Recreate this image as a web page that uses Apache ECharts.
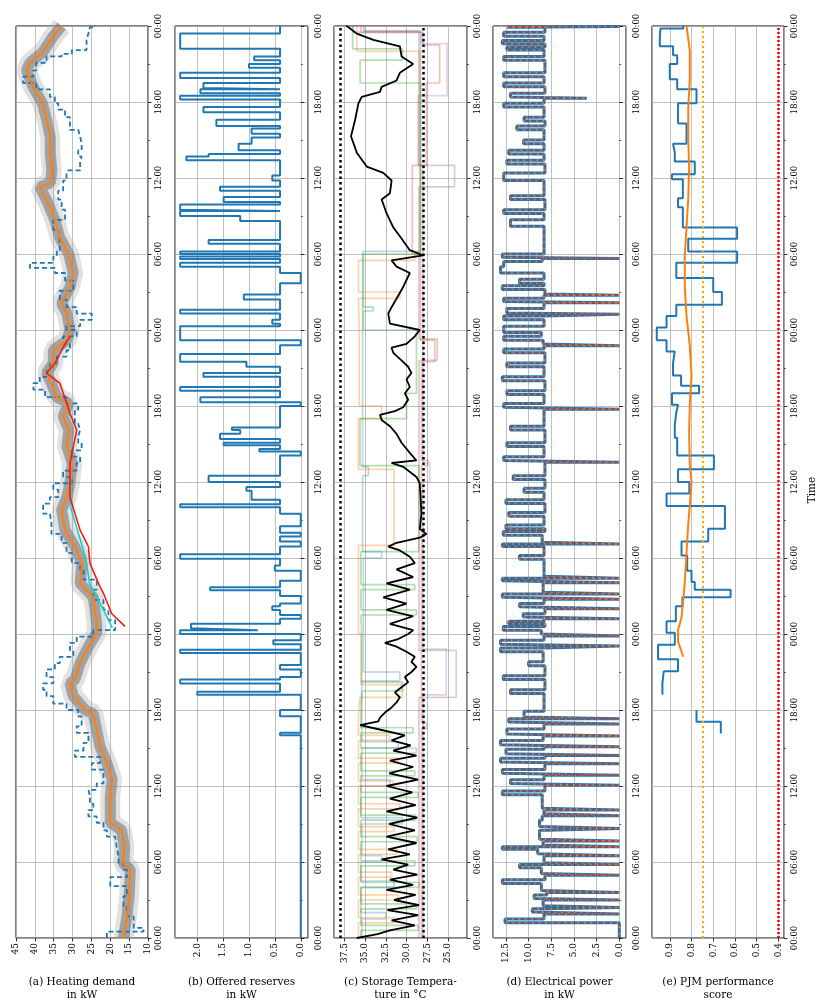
<!DOCTYPE html>
<html>
<head>
<meta charset="utf-8">
<script src="https://cdn.jsdelivr.net/npm/echarts@6/dist/echarts.min.js"></script>
<style>
html,body{margin:0;padding:0;background:#fff}
#main{width:831px;height:1003px}
</style>
</head>
<body>
<div id="main"></div>
<script>
// all series are [hour, value] pairs, hour 0..72 (three days)
var heatForecast = [[0,16.5],[1.7,15.6],[3.3,15.0],[5.4,14.7],[5.9,16.6],[7.2,16.3],[8.5,17.0],[9.1,20.0],[11.2,20.0],[12.5,19.5],
  [13.8,20.9],[15.1,22.7],[16.4,23.6],[17.7,24.5],[18.0,26.7],[19.1,29.8],[20.1,30.7],[20.4,29.4],[21.7,28.0],[23.0,25.8],
  [24.1,23.6],[24.8,23.6],[26.9,24.5],[28.0,28.0],[29.6,27.5],[30.9,29.4],[32.2,32.0],[33.8,32.9],[34.8,31.5],[35.9,30.7],
  [37.5,30.1],[38.8,31.5],[40.1,31.0],[41.2,32.5],[42.2,31.0],[42.7,34.2],[43.8,35.6],[44.6,36.9],[45.4,35.1],[46.4,35.1],
  [47.2,31.5],[48.0,30.7],[49.3,31.5],[50.1,32.9],[51.4,30.7],[52.5,29.8],[54.0,31.0],[55.3,33.4],[56.6,34.6],[58.0,36.5],
  [59.3,38.7],[59.6,35.9],[60.6,35.5],[61.9,35.9],[63.2,35.9],[64.6,36.9],[65.9,38.0],[67.2,40.5],[68.5,42.2],[69.1,41.3],
  [69.9,38.0],[71.2,35.1],[72,32.9]];

var heatActual = [[0,20.9],[0.5,11.2],[0.8,13.8],[1.7,15.6],[2.5,16.5],[3.3,15.6],[4.1,20.0],[4.8,15.6],[5.4,16.5],[5.9,17.8],
  [6.4,18.3],[7.2,18.7],[8.0,20.9],[8.5,21.8],[9.1,23.6],[9.6,25.8],[10.1,24.5],[10.6,25.4],[11.2,25.8],[11.7,23.6],
  [12.2,21.8],[13.3,24.9],[13.8,22.7],[14.3,29.4],[14.8,27.1],[15.4,25.8],[16.2,28.9],[16.7,27.6],[17.5,28.5],[18.0,31.6],
  [18.5,35.1],[19.1,36.9],[19.6,37.8],[20.1,35.1],[20.6,36.9],[21.2,34.7],[21.7,33.4],[22.2,29.8],[22.7,30.7],[23.3,28.9],
  [23.8,24.5],[24.3,18.7],[25.1,20.5],[25.9,21.8],[26.7,24.5],[27.5,23.6],[28.3,27.1],[29.1,28.0],[29.6,30.2],[30.4,31.6],
  [31.2,32.9],[31.9,35.6],[32.7,36.0],[33.5,37.8],[34.3,36.0],[34.8,33.8],[35.4,35.1],[35.9,30.2],[36.4,32.5],[36.9,28.9],
  [37.5,28.0],[38.0,30.2],[38.5,27.6],[39.1,28.5],[39.6,28.0],[40.1,28.5],[40.6,29.4],[41.2,29.4],[41.7,28.5],[42.2,31.6],
  [42.7,37.3],[43.3,40.4],[43.8,38.7],[44.3,36.9],[44.8,36.0],[45.4,34.2],[45.9,31.6],[46.4,30.7],[46.9,32.5],[47.5,28.9],
  [48.0,31.6],[48.3,28.0],[48.8,24.9],[49.3,28.9],[49.8,31.6],[50.4,33.4],[51.1,29.8],[51.9,32.0],[52.5,34.7],[52.9,41.3],
  [53.3,35.1],[53.8,34.2],[54.3,33.4],[55.1,33.8],[55.9,35.1],[56.7,32.0],[57.5,32.9],[58.3,33.8],[59.0,32.5],[59.8,31.6],
  [60.4,31.1],[60.6,28.0],[61.2,27.6],[61.7,28.5],[62.2,27.6],[62.7,28.0],[63.3,28.5],[63.8,30.7],[64.3,30.7],[64.8,32.0],
  [65.4,33.8],[65.9,34.7],[66.4,36.0],[67.0,39.6],[67.5,43.1],[68.0,40.4],[68.5,39.6],[69.1,36.9],[69.6,32.9],[69.8,30.2],
  [70.1,26.3],[70.9,25.8],[71.4,25.4],[71.9,24.0]];

var heatRed = [[24.6,16.1],[25.6,19.6],[27.2,21.8],[27.7,22.7],[29.6,25.4],[30.9,25.8],[32.2,28.0],[34.8,30.7],[37.5,30.7],
  [40.1,28.9],[41.4,30.7],[42.2,31.5],[43.8,33.4],[44.6,36.9],[45.4,34.6],[46.4,32.9],[47.5,30.7]];

var heatCyan = [[24.5,19.5],[26,22.0],[28,25.5],[30,26.5],[32,28.5],[34,30.5],[36,30.5],[37.5,30.3]];

var reserves = [[0,0],[16.0,0.4],[16.2,0],[17.5,0.4],[18.0,0],[19.2,2.0],[19.45,0.4],[20.1,2.33],[20.4,0.4],[20.6,0],
  [21.2,0.4],[21.55,0],[22.5,2.33],[22.75,0],[23.2,0.53],[23.5,0],[24.0,2.33],[24.3,0.83],[24.45,2.12],[24.8,0.4],
  [25.2,0],[25.5,0.4],[25.9,0.55],[26.2,0.4],[26.4,0],[27.0,0.4],[27.45,1.75],[27.7,0.4],[28.2,0],[29.0,0.5],
  [29.4,0.4],[29.95,2.33],[30.3,0.4],[30.9,0],[31.3,0.4],[31.7,0],[32.0,0.4],[32.5,0],[33.5,0.4],[34.0,2.33],
  [34.25,0.4],[34.6,0.95],[35.3,1.05],[35.6,0.4],[36.0,1.78],[36.5,0.4],[38.1,0],[38.4,0.8],[38.6,0.4],[38.9,1.49],
  [39.1,0.4],[39.4,1.56],[39.8,1.17],[40.1,1.33],[40.3,0.4],[42.0,0],[42.3,1.94],[42.7,0.4],[43.2,2.33],[43.5,0.4],
  [44.3,1.88],[44.6,0.4],[45.1,1.05],[45.5,2.33],[46.1,0.4],[46.8,0],[47.2,2.33],[48.3,0.4],[48.5,0.55],[48.8,0.4],
  [49.3,2.33],[49.6,0.4],[50.4,1.1],[50.8,0.4],[51.7,0],[52.5,0.4],[53.0,2.33],[53.3,0.4],[53.6,2.33],[53.8,0.4],
  [54.0,2.33],[54.2,0.4],[54.8,1.78],[55.1,0.4],[56.6,1.17],[57.0,2.33],[57.4,0.4],[57.5,2.33],[57.9,0.4],[58.1,1.49],
  [58.5,0.4],[59.0,1.56],[59.3,0.4],[59.8,0.55],[60.2,0.4],[61.4,2.21],[61.7,1.78],[61.9,0.4],[62.2,1.2],[62.7,0.95],
  [63.2,0.4],[63.5,0.95],[63.9,0.4],[64.1,1.63],[64.6,0.4],[65.2,1.88],[65.6,0.4],[66.2,2.33],[66.5,0.4],[66.7,1.94],
  [67.0,0.4],[67.1,1.88],[67.5,0.4],[67.9,2.33],[68.3,0.4],[68.7,1.0],[69.0,0.4],[69.3,0.9],[69.6,0.4],[70.2,2.33],
  [71.4,0.4]];

var storageTemp = [[0.0,36.0],[0.3,33.5],[0.6,32.0],[1.0,29.0],[1.4,31.8],[1.8,28.6],[2.2,32.3],[2.6,28.5],[3.0,31.5],[3.4,28.9],
  [3.8,32.4],[4.2,29.2],[4.6,32.0],[5.0,28.7],[5.4,31.6],[5.8,29.8],[6.2,33.0],[6.6,29.6],[7.0,32.2],[7.5,28.8],
  [8.0,32.4],[8.5,29.0],[9.0,32.1],[9.5,28.7],[10.0,32.4],[10.5,28.9],[11.0,32.0],[11.5,29.3],[12.0,32.4],[12.5,28.6],
  [13.0,32.1],[13.5,29.2],[14.0,32.0],[14.4,28.8],[14.8,31.6],[15.2,29.5],[15.6,31.8],[16.0,30.2],[16.5,33.5],[16.8,35.6],
  [17.1,33.4],[17.4,33.2],[17.8,32.6],[18.2,31.8],[18.6,31.2],[19.0,30.8],[19.4,31.4],[19.8,30.6],[20.2,29.8],[20.6,30.2],
  [21.0,29.4],[21.4,28.8],[21.8,29.4],[22.2,29.0],[22.6,30.0],[23.0,31.2],[23.3,32.6],[23.6,31.0],[24.0,29.8],
  [24.3,29.2],[24.8,32.0],[25.4,29.2],[25.9,32.4],[26.4,30.0],[26.9,32.8],[27.5,29.6],[28.0,32.4],[28.5,29.2],[29.1,31.2],
  [29.6,29.0],[30.1,29.6],[30.6,30.8],[30.9,32.2],[31.2,31.2],[31.6,28.4],[31.9,27.6],[32.3,28.4],[33.5,28.2],[34.8,28.3],
  [35.9,28.4],[36.4,28.8],[37.2,30.4],[37.5,31.8],[37.7,28.8],[38.3,29.6],[39.1,30.6],[39.8,31.2],[40.4,32.0],[40.9,33.0],
  [41.3,33.2],[41.6,31.4],[41.9,30.4],[42.5,29.8],[43.0,30.2],[43.5,29.6],[44.1,30.0],[44.6,29.4],[45.1,29.8],[45.6,30.6],
  [46.2,31.6],[46.6,31.8],[46.9,30.0],[47.5,29.0],[48.0,28.4],
  [48.5,32.0],[49.3,32.2],[49.8,31.8],[51.4,30.4],[52.5,29.6],[53.0,31.2],[53.5,31.8],[53.9,28.0],[54.3,29.6],[55.4,30.8],
  [56.1,31.6],[57.2,32.4],[58.3,33.0],[58.8,32.0],[59.8,31.8],[60.4,32.8],[60.9,34.8],[62.0,36.0],[63.3,36.7],[64.6,36.2],
  [65.9,35.8],[66.4,35.4],[66.8,33.2],[67.2,33.0],[67.7,31.2],[68.3,30.8],[69.0,29.2],[69.6,30.6],[70.4,30.8],[70.9,34.0],
  [71.4,36.0],[71.9,37.0],[72.0,37.3]];

// individual storages, drawn faint
var paleBlue = [[0,35.4],[1.5,32.5],[2.0,35.5],[4.0,31.5],[4.5,35.5],[6.0,33.0],[6.5,35.4],[9.0,30.5],[9.5,35.5],[12.0,32.0],
  [12.5,35.4],[15.0,31.0],[15.5,35.4],[20.3,30.8],[21.0,35.2],[30.0,33.0],[30.5,35.3],[36.5,34.6],[37.2,35.3],[54.2,28.3],[71.5,36.5]];
var paleOrange = [[0,35.8],[1.2,31.5],[1.6,35.8],[3.0,31.0],[3.4,35.8],[4.8,31.8],[5.2,35.8],[6.6,31.2],[7.0,35.8],[8.4,31.5],
  [8.8,35.8],[10.2,30.8],[10.6,35.8],[12.0,31.6],[12.4,35.8],[13.8,31.0],[14.2,35.8],[15.6,32.0],[16.0,35.8],[17.5,35.6],
  [19.0,30.5],[20.0,35.5],[24.0,35.8],[31.0,31.5],[37.0,35.8],[41.0,33.0],[42.0,35.7],[48.0,35.8],[50.5,30.8],[51.0,35.8],
  [53.5,29.0],[54.0,28.4],[70.0,36.0]];
var paleGreen = [[0,35.5],[0.6,28.6],[1.0,35.5],[2.3,28.8],[2.7,35.5],[4.0,28.5],[4.4,35.5],[5.7,29.0],[6.1,35.5],[7.6,28.7],
  [8.0,35.5],[9.3,28.9],[9.7,35.5],[11.1,28.6],[11.5,35.5],[12.8,29.0],[13.2,35.5],[14.6,28.8],[15.0,35.5],[16.2,29.2],
  [16.6,35.5],[17.5,35.4],[19.5,30.5],[20.2,35.4],[24.0,35.5],[25.5,28.8],[25.9,35.5],[27.5,29.0],[27.9,35.5],[30.5,28.5],
  [37.3,35.6],[41.0,30.0],[43.0,28.8],[48.0,35.2],[49.5,34.0],[49.8,35.2],[54.0,28.3],[67.5,35.6],[69.3,30.5],[70.2,36.5]];
var paleRed = [[0,28.2],[16.5,27.6],[17.0,28.2],[37.3,27.4],[37.7,28.2],[45.5,26.6],[47.2,28.3],[54.0,29.3],[61.0,27.6],
  [67.5,26.0],[70.5,28.0],[71.5,35.5]];
var palePurple = [[0,28.0],[19.2,25.2],[22.8,28.0],[36.0,27.2],[37.5,28.0],[61.0,28.6],[66.5,25.1],[70.6,28.2],[71.6,35.0]];
var paleBrown = [[0,28.5],[19.0,24.0],[22.7,28.5],[45.6,26.3],[47.3,28.5],[59.3,24.2],[61.0,28.5],[71.6,35.2]];
var storageLimits = [38, 28];

var elecPower = [[0,0],[1.2,12.6],[1.5,8.3],[1.9,0],[2.05,9.6],[2.3,8.2],[2.4,0],[2.55,8.4],[3.0,0],[3.12,9.4],
  [3.4,8.0],[3.6,0],[3.75,8.6],[4.3,12.9],[4.6,8.2],[4.95,0],[5.1,8.6],[5.55,11.0],[5.8,0],[5.95,8.3],
  [6.5,0],[6.65,9.0],[7.0,12.9],[7.2,0],[7.35,8.4],[7.65,0],[7.8,8.8],[8.5,8.0],[8.65,0],[8.8,8.8],
  [9.3,8.5],[9.65,0],[9.8,8.3],[10.1,0],[10.25,8.5],[11.3,12.9],[11.6,8.2],[12.05,0],[12.2,12.0],[12.5,8.3],
  [12.85,0],[13.0,12.9],[13.3,8.2],[13.75,0],[13.9,13.1],[14.2,8.2],[14.4,0],[14.55,12.5],[14.9,8.3],[15.1,0],
  [15.25,13.1],[15.6,8.4],[15.95,0],[16.1,12.4],[16.5,8.3],[16.9,0],[17.05,12.2],[17.3,0],[17.45,10.5],[17.9,8.3],
  [19.3,12.0],[19.6,8.2],[20.4,12.8],[20.7,8.2],[21.5,10.0],[21.8,8.4],[22.6,13.1],[22.9,8.3],[23.05,0],[23.2,13.1],
  [23.5,8.3],[23.85,0],[24.0,8.6],[24.3,12.8],[24.6,8.2],[24.8,12.2],[25.0,8.3],[25.2,0],[25.35,10.6],[25.6,8.2],
  [26.0,0],[26.15,11.0],[26.4,8.3],[26.75,0],[26.9,12.9],[27.15,0],[27.3,8.4],[28.05,0],[28.2,12.9],[28.4,0],
  [28.55,8.3],[29.9,11.0],[30.2,8.3],[30.9,12.9],[31.1,0],[31.25,8.5],[31.8,12.8],[32.1,8.2],[32.3,12.5],[32.6,8.3],
  [33.3,12.2],[33.6,8.2],[34.3,12.5],[34.6,8.3],[35.2,10.5],[35.5,8.2],[36.2,11.7],[36.5,8.2],[37.55,0],[37.7,12.75],
  [38.0,8.3],[38.8,12.4],[39.1,8.2],[40.1,12.0],[40.4,8.3],[41.75,0],[41.9,12.75],[42.2,8.3],[42.9,12.4],[43.2,8.2],
  [44.0,12.9],[44.3,8.3],[45.1,12.4],[45.4,8.2],[46.2,12.75],[46.5,8.3],[46.75,0],[46.9,8.4],[47.2,12.75],[47.5,8.6],
  [47.8,12.75],[48.3,8.3],[48.8,12.75],[49.1,8.2],[49.25,0],[49.35,12.4],[49.7,8.3],[50.15,0],[50.25,12.75],[50.5,8.3],
  [50.75,0],[50.85,8.2],[51.2,12.9],[51.5,8.3],[51.7,11.0],[52.0,8.3],[52.5,13.1],[53.0,12.75],[53.4,8.5],[53.65,0],
  [53.75,12.9],[54.0,8.3],[56.2,12.0],[56.7,8.3],[57.2,12.75],[57.5,8.2],[58.3,12.0],[58.6,8.3],[59.8,12.75],[60.4,8.2],
  [61.1,12.4],[61.4,8.3],[61.9,12.2],[62.2,8.3],[62.7,10.55],[63.0,8.3],[63.8,11.3],[64.1,8.2],[64.5,10.5],[64.8,8.3],
  [65.6,12.75],[65.9,8.3],[66.3,3.6],[66.35,8.3],[66.4,12.0],[66.7,8.2],[67.2,12.75],[67.5,8.3],[68.0,12.75],[68.3,8.2],
  [69.3,12.75],[69.6,8.3],[70.1,12.4],[70.35,8.2],[70.6,12.9],[70.85,8.3],[71.2,12.75],[71.5,8.2],[71.9,12.4],[71.97,0]];

var pjmScore = [[16.15,0.665],[17.08,0.777],[18.0,null],[19.2,0.934],[20.1,0.928],[21.05,0.862],[22.0,0.954],[23.16,0.877],
  [24.1,0.915],[25.0,0.872],[26.2,0.842],[26.9,0.62],[27.5,0.785],[28.1,0.80],[29.0,0.82],[30.2,0.846],[31.3,0.723],
  [32.3,0.646],[34.1,0.915],[35.1,0.81],[36.0,0.862],[37.0,0.697],[38.1,0.866],[39.5,0.877],[40.5,0.87],[41.5,0.862],
  [42.1,0.89],[43.0,0.765],[43.6,0.848],[44.4,0.885],[45.4,0.877],[46.3,0.915],[47.2,0.96],[48.2,0.915],[49.1,0.87],
  [50.0,0.66],[51.0,0.70],[52.1,0.87],[53.3,0.59],[54.2,0.815],[55.2,0.59],[56.1,0.84],[57.7,0.862],[58.4,0.84],
  [59.9,0.89],[60.3,0.785],[61.3,0.877],[62.0,0.885],[62.7,0.823],[64.3,0.862],[65.9,0.777],[67.0,0.866],[67.8,0.9],
  [69.0,0.866],[69.7,0.885],[70.4,0.946],[71.1,0.943],[71.8,0.838]];
var pjmMean = [[22.2,0.838],[23.4,0.862],[24.3,0.862],[25.3,0.846],[26.7,0.838],[28.1,0.831],[30.4,0.823],[32.7,0.815],
  [34.1,0.808],[36.0,0.8],[37.4,0.808],[39.8,0.811],[42.1,0.808],[44.4,0.8],[46.8,0.808],[49.1,0.823],[51.4,0.831],
  [53.8,0.831],[56.1,0.823],[58.4,0.815],[60.8,0.811],[63.1,0.815],[65.5,0.815],[67.8,0.808],[70.1,0.808],[72.0,0.823]];
var pjmThresholds = [0.75, 0.4];

var panelTitles = ['(a) Heating demand\nin kW', '(b) Offered reserves\nin kW', '(c) Storage Tempera-\nture in \u00b0C',
  '(d) Electrical power\nin kW', '(e) PJM performance\nscore'];

var FONT = 'DejaVu Serif';
var chart = echarts.init(document.getElementById('main'));

// value on x, hour on y
function flip(pts) { return pts.map(function (p) { return [p[1], p[0]]; }); }
function stepLine(pts, endHour) {
  var out = [];
  for (var i = 0; i < pts.length; i++) {
    var h1 = i + 1 < pts.length ? pts[i + 1][0] : endHour;
    if (pts[i][1] == null) { out.push(null); continue; }
    out.push([pts[i][1], pts[i][0]], [pts[i][1], h1]);
  }
  return out;
}

var panels = [
  {left: 16,  width: 132, min: 10, max: 45, step: 5, fmt: function (v) { return String(v); }, ends: true},
  {left: 175, width: 133, min: -0.14, max: 2.43, step: 0.5, fmt: function (v) { return v.toFixed(1); }},
  {left: 334, width: 133, min: 22.7, max: 38.75, step: 2.5, fmt: function (v) { return v.toFixed(1); }},
  {left: 493, width: 133, min: -0.74, max: 13.93, step: 2.5, fmt: function (v) { return v.toFixed(1); }},
  {left: 652, width: 132, min: 0.374, max: 0.982, step: 0.1, fmt: function (v) { return v.toFixed(1); }}
];

var grids = [], xAxes = [], yAxes = [], graphics = [];
panels.forEach(function (p, i) {
  grids.push({left: p.left, top: 26, width: p.width, height: 912, show: true,
    borderColor: '#000', borderWidth: 1, outerBoundsMode: 'none'});
  xAxes.push({
    gridIndex: i, type: 'value', inverse: true, min: p.min, max: p.max,
    minInterval: p.step, maxInterval: p.step,
    axisLine: {show: false},
    axisTick: {show: true, length: 3.5, lineStyle: {color: '#000', width: 0.8}},
    axisLabel: {rotate: 90, margin: 5, fontFamily: FONT, fontSize: 9, color: '#000',
      showMinLabel: !!p.ends, showMaxLabel: !!p.ends, formatter: p.fmt},
    splitLine: {show: true, lineStyle: {color: '#b0b0b0', width: 0.8}}
  });
  yAxes.push({
    gridIndex: i, type: 'value', position: 'right', min: 0, max: 72, interval: 6,
    axisLine: {show: false},
    axisTick: {show: true, length: 3.5, lineStyle: {color: '#000', width: 0.8}},
    minorTick: {show: true, splitNumber: 2, length: 2, lineStyle: {color: '#000', width: 0.6}},
    axisLabel: {rotate: 90, margin: 6, fontFamily: FONT, fontSize: 8.5, color: '#000',
      formatter: function (v) { var h = v % 24; return (h < 10 ? '0' : '') + h + ':00'; }},
    splitLine: {show: true, lineStyle: {color: '#b0b0b0', width: 0.8}}
  });
  graphics.push({type: 'text', x: p.left + p.width / 2, y: 976,
    style: {text: panelTitles[i], textAlign: 'center', fill: '#000', font: '10.5px "' + FONT + '"', lineHeight: 13}});
});
graphics.push({type: 'text', x: 812, y: 490, rotation: Math.PI / 2,
  style: {text: 'Time', textAlign: 'center', textVerticalAlign: 'middle', fill: '#000', font: '10.5px "' + FONT + '"'}});

function line(gi, data, color, width, type, extra) {
  var s = {type: 'line', xAxisIndex: gi, yAxisIndex: gi, data: data, showSymbol: false, symbol: 'none',
    animation: false, silent: true, connectNulls: false,
    lineStyle: {color: color, width: width, type: type || 'solid'}};
  if (extra) Object.keys(extra).forEach(function (k) { s[k] = extra[k]; });
  return s;
}

var series = [
  // (a) gray ensemble band, then measured, forecasts
  line(0, flip(heatForecast), 'rgba(170,170,170,0.35)', 20),
  line(0, flip(heatForecast), 'rgba(120,120,120,0.6)', 11),
  line(0, stepLine(heatActual, 72), '#1f77b4', 1.8, [5, 3]),
  line(0, flip(heatCyan), '#17d3c3', 1.6),
  line(0, flip(heatForecast), '#ff7f0e', 2),
  line(0, flip(heatRed), '#f21d12', 1.6),
  // (b)
  line(1, stepLine(reserves, 72), '#1f77b4', 2),
  // (c)
  line(2, stepLine(paleBlue, 72), 'rgba(31,119,180,0.3)', 1.7),
  line(2, stepLine(paleOrange, 72), 'rgba(255,127,14,0.35)', 1.7),
  line(2, stepLine(paleGreen, 72), 'rgba(44,160,44,0.35)', 1.7),
  line(2, stepLine(paleRed, 72), 'rgba(214,39,40,0.3)', 1.7),
  line(2, stepLine(palePurple, 72), 'rgba(148,103,189,0.3)', 1.7),
  line(2, stepLine(paleBrown, 72), 'rgba(140,86,75,0.3)', 1.7),
  line(2, flip(storageTemp), '#000', 1.8, 'solid', {
    markLine: {symbol: 'none', silent: true, animation: false, label: {show: false},
      lineStyle: {color: '#000', type: [2.5, 3], width: 2.5},
      data: storageLimits.map(function (v) { return {xAxis: v}; })}
  }),
  // (d)
  line(3, stepLine(elecPower, 72), '#1f77b4', 3),
  line(3, stepLine(elecPower, 72), '#ff7f0e', 1.5, [1.5, 5], {lineStyle: {color: '#ff7f0e', width: 1.5, type: [1.5, 5], dashOffset: 3}}),
  line(3, stepLine(elecPower, 72), '#e8261c', 1.5, [1.5, 5]),
  // (e)
  line(4, stepLine(pjmScore, 72), '#1f77b4', 2, 'solid', {
    markLine: {symbol: 'none', silent: true, animation: false, label: {show: false},
      data: [
        {xAxis: pjmThresholds[0], lineStyle: {color: '#ffa500', type: [2, 3], width: 2}},
        {xAxis: pjmThresholds[1], lineStyle: {color: '#ff0000', type: [2, 2], width: 2.5}}
      ]}
  }),
  line(4, flip(pjmMean), '#ff7f0e', 2)
];

chart.setOption({
  animation: false,
  backgroundColor: '#fff',
  grid: grids,
  xAxis: xAxes,
  yAxis: yAxes,
  graphic: graphics,
  series: series
});
</script>
</body>
</html>
